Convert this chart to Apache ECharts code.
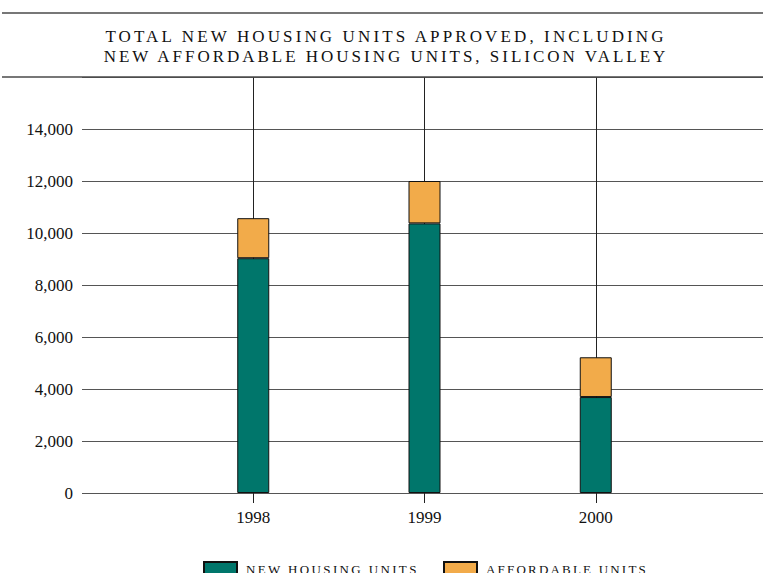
<!DOCTYPE html>
<html>
<head>
<meta charset="utf-8">
<script src="https://cdn.jsdelivr.net/npm/echarts@6/dist/echarts.min.js"></script>
<style>
  html, body { margin: 0; padding: 0; background: #fff; overflow: hidden; }
  /* a little wider than the window: the last (blank) category sits just past the right edge */
  #chart { width: 770px; height: 573px; }
</style>
</head>
<body>
<div id="chart"></div>
<script>
// data
const years = ['1998', '1999', '2000']
const newUnits = [9030, 10370, 3690]
const affordableUnits = [1540, 1630, 1530]
const yTicks = [0, 2000, 4000, 6000, 8000, 10000, 12000, 14000]

const titleLines = ['TOTAL NEW HOUSING UNITS APPROVED, INCLUDING', 'NEW AFFORDABLE HOUSING UNITS, SILICON VALLEY']
const legendNames = ['NEW HOUSING UNITS', 'AFFORDABLE UNITS']

const serif = 'Liberation Serif'
const teal = '#00766b'
const orange = '#f2ab4a'

// pad the category axis with blank ends so the years sit at the quarter points
const cats = [''].concat(years, [''])
const pad = (arr) => [null].concat(arr, [null])

// letter spacing: the reference uses spaced caps, measured widths target the picture
const ctx = document.createElement('canvas').getContext('2d')
const measure = (s, size) => {
  ctx.font = size + 'px "' + serif + '"'
  return ctx.measureText(s).width
}
const spacing = {}
const targets = [
  [titleLines[0], 17, 563],
  [titleLines[1], 17, 566],
  [legendNames[0], 13, 173],
  [legendNames[1], 13, 162]
]
targets.forEach(([s, size, w]) => {
  spacing[s] = (w - measure(s, size)) / s.length
})
// legend measures text without the spacing, so widen the gap by hand
const legendGap = 442 - (203 + 33 + 9) - measure(legendNames[0], 13)

const chart = echarts.init(document.getElementById('chart'), null, { renderer: 'svg' })

const option = {
  animation: false,
  title: {
    text: titleLines.join('\n'),
    left: 386,
    textAlign: 'center',
    top: 26,
    padding: 0,
    textStyle: {
      fontFamily: serif,
      fontSize: 17,
      lineHeight: 20,
      fontWeight: 'normal',
      color: '#111'
    }
  },
  graphic: [
    { type: 'line', shape: { x1: 2, y1: 13, x2: 770, y2: 13 }, style: { stroke: '#4a4a4a', lineWidth: 1.6 } },
    { type: 'line', shape: { x1: 2, y1: 77, x2: 770, y2: 77 }, style: { stroke: '#4a4a4a', lineWidth: 1.6 }, z: 10 }
  ],
  legend: {
    data: legendNames,
    left: 203,
    top: 561,
    padding: 0,
    itemWidth: 33,
    itemHeight: 14,
    itemGap: legendGap,
    icon: 'rect',
    textStyle: {
      fontFamily: serif,
      fontSize: 13,
      color: '#111',
      padding: [0, 0, 0, 4]
    }
  },
  grid: {
    left: 82,
    right: 0,
    top: 77,
    bottom: 80,
    containLabel: false
  },
  xAxis: {
    type: 'category',
    data: cats,
    boundaryGap: false,
    axisLine: { show: false },
    axisTick: {
      show: true,
      length: 10,
      interval: (i, v) => v !== '',
      lineStyle: { color: '#222', width: 1 }
    },
    axisLabel: {
      margin: 16,
      fontFamily: serif,
      fontSize: 17,
      color: '#111',
      interval: 0
    },
    splitLine: {
      show: true,
      interval: (i, v) => v !== '',
      lineStyle: { color: '#222', width: 1 }
    }
  },
  yAxis: {
    type: 'value',
    min: 0,
    max: 16000,
    interval: 2000,
    axisLine: { show: false },
    axisTick: { show: false },
    axisLabel: {
      margin: 9,
      fontFamily: serif,
      fontSize: 17,
      color: '#111',
      formatter: (v) => yTicks.indexOf(v) >= 0 ? v.toLocaleString('en-US') : ''
    },
    splitLine: {
      lineStyle: { color: '#555', width: 1 }
    }
  },
  series: [
    {
      name: legendNames[0],
      type: 'bar',
      stack: 'total',
      barWidth: 32,
      data: pad(newUnits),
      itemStyle: { color: teal, borderColor: '#111', borderWidth: 1 }
    },
    {
      name: legendNames[1],
      type: 'bar',
      stack: 'total',
      barWidth: 32,
      data: pad(affordableUnits),
      itemStyle: { color: orange, borderColor: '#111', borderWidth: 1 }
    }
  ]
}

const spaceText = () => {
  document.querySelectorAll('#chart svg text').forEach(t => {
    const s = t.textContent
    if (spacing[s] != null) t.setAttribute('letter-spacing', spacing[s].toFixed(2) + 'px')
  })
}

chart.on('finished', spaceText)
chart.setOption(option)
spaceText()
</script>
</body>
</html>
